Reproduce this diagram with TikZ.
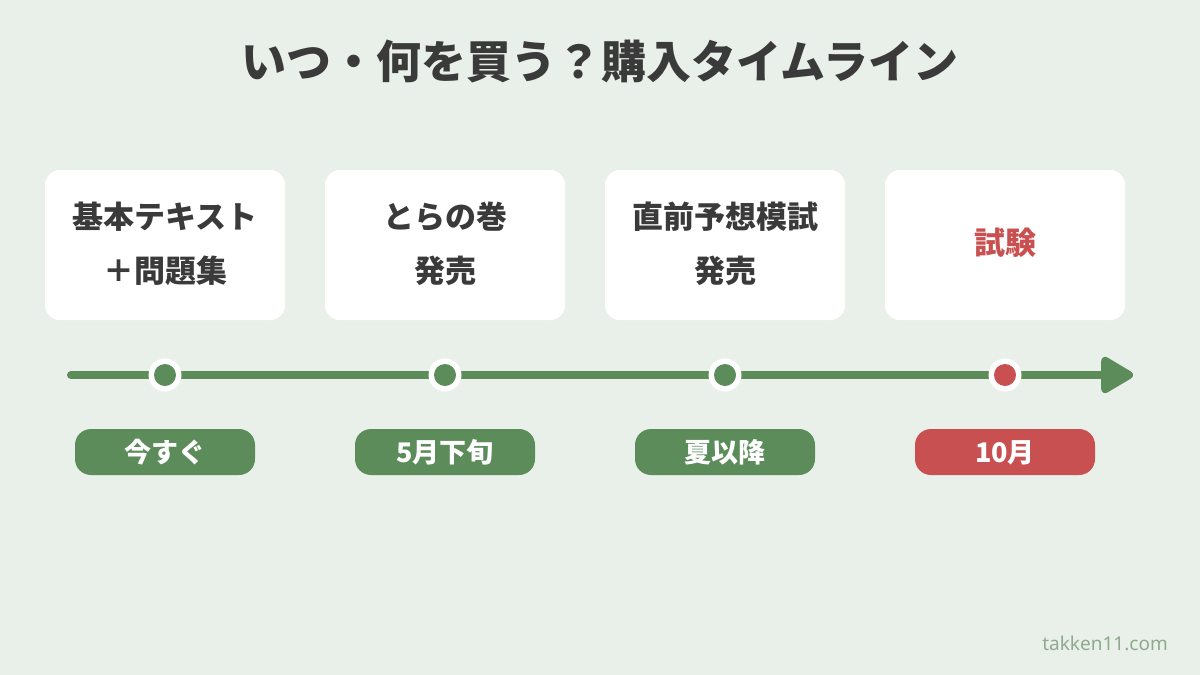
\documentclass[tikz,border=0pt]{standalone}
\usepackage{fontspec}
\setmainfont{Noto Sans CJK JP}
\newfontfamily\latinsans{Noto Sans}
\usetikzlibrary{arrows.meta}
\definecolor{bg}{HTML}{E9F0E9}
\definecolor{tgreen}{HTML}{5B8C5A}
\definecolor{tred}{HTML}{C95050}
\definecolor{dark}{HTML}{3A3A3A}
\definecolor{wm}{HTML}{8FA98F}
\tikzset{
  card/.style={fill=white, rounded corners=15pt, minimum width=240pt, minimum height=150pt, inner sep=0pt},
  cardtxt/.style={anchor=base, text=dark, font=\fontsize{31pt}{31pt}\selectfont\bfseries, inner sep=0pt},
  pill/.style={rounded corners=16pt, minimum width=180pt, minimum height=46pt, inner sep=0pt},
  pilltxt/.style={anchor=base, text=white, font=\fontsize{27pt}{27pt}\selectfont\bfseries, inner sep=0pt},
  outerdot/.style={circle, fill=white, minimum size=33pt, inner sep=0pt},
  innerdot/.style={circle, minimum size=22pt, inner sep=0pt},
}
\begin{document}
\begin{tikzpicture}[x=1pt,y=-1pt]
\fill[bg] (0,0) rectangle (1200,675);
\useasboundingbox (0,0) rectangle (1200,675);
\node[anchor=base, text=dark, font=\fontsize{45pt}{45pt}\selectfont\bfseries, inner sep=0pt] (title) at (600,78) {いつ・何を買う？購入タイムライン};
% cards
\node[card] (b1) at (165,245) {};
\node[card] (b2) at (445,245) {};
\node[card] (b3) at (725,245) {};
\node[card] (b4) at (1005,245) {};
\node[cardtxt] (b1a) at (165,228) {基本テキスト};
\node[cardtxt] (b1b) at (165,282) {＋問題集};
\node[cardtxt] (b2a) at (445,228) {とらの巻};
\node[cardtxt] (b2b) at (445,282) {発売};
\node[cardtxt] (b3a) at (725,228) {直前予想模試};
\node[cardtxt] (b3b) at (725,282) {発売};
\node[cardtxt, text=tred] (b4a) at (1005,254) {試験};
% timeline
\coordinate (tstart) at (71,375);
\coordinate (tend) at (1133,375);
\draw[tgreen, line width=8pt, line cap=round, -{Triangle[length=36pt,width=40pt,round]}] (tstart) -- (tend);
\foreach \i/\x/\c in {1/165/tgreen,2/445/tgreen,3/725/tgreen,4/1005/tred}{
  \node[outerdot] (o\i) at (\x,375) {};
  \node[innerdot, fill=\c] (d\i) at (\x,375) {};
}
% pills
\node[pill, fill=tgreen] (p1) at (165,452) {};
\node[pill, fill=tgreen] (p2) at (445,452) {};
\node[pill, fill=tgreen] (p3) at (725,452) {};
\node[pill, fill=tred] (p4) at (1005,452) {};
\node[pilltxt] (p1t) at (165,462) {今すぐ};
\node[pilltxt] (p2t) at (445,462) {5月下旬};
\node[pilltxt] (p3t) at (725,462) {夏以降};
\node[pilltxt] (p4t) at (1005,462) {10月};
\node[anchor=base east, text=wm, font=\latinsans\fontsize{19pt}{19pt}\selectfont, inner sep=0pt] (wmk) at (1168,650) {takken11.com};
\end{tikzpicture}
\end{document}
